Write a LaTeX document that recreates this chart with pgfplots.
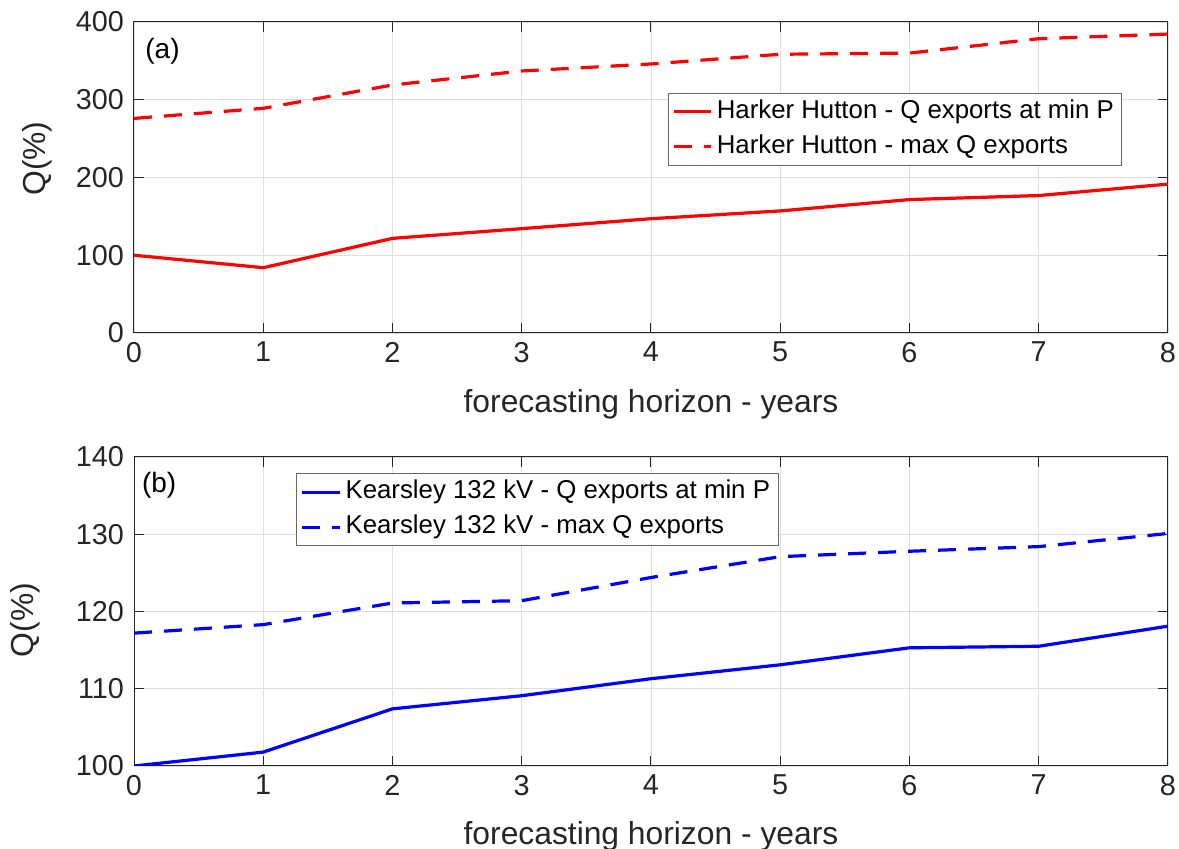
\documentclass[border=0pt]{standalone}
\usepackage{fontspec}
\setmainfont{Liberation Sans}
\usepackage{pgfplots}
\pgfplotsset{compat=1.18}
\definecolor{axgray}{HTML}{262626}
\definecolor{gridgray}{HTML}{DEDEDE}
\definecolor{mred}{HTML}{FF0000}
\definecolor{mblue}{HTML}{0000FF}
\newcommand\tickf{\fontsize{14.4}{17}\selectfont}
\newcommand\labf{\fontsize{15.9}{19}\selectfont}
\newcommand\legf{\fontsize{12.9}{15.4}\selectfont}
\newcommand\panf{\fontsize{14}{16.5}\selectfont}
\pgfplotsset{
  mystyle/.style={
    scale only axis,
    width=517pt,
    xmin=0, xmax=8,
    xtick={0,1,...,8},
    grid=major,
    major grid style={gridgray, line width=0.4pt},
    axis line style={axgray, line width=0.5pt},
    tick style={axgray, line width=0.5pt},
    major tick length=5pt,
    tick align=inside,
    tick pos=both,
    every tick label/.append style={font=\tickf, text=axgray},
    /pgf/number format/assume math mode=true,
    every x tick label/.append style={yshift=-1pt},
    every y tick label/.append style={xshift=-1.5pt},
    every axis label/.append style={font=\labf, text=axgray},
    xlabel={forecasting horizon - years},
    every axis x label/.append style={at={(axis description cs:0.5,-0.229)}, anchor=center, font=\labf},
    every axis y label/.append style={font=\labf},
    ylabel={Q(\%)},
    legend cell align=left,
    legend style={font=\legf, draw=axgray!70, line width=0.5pt,
      inner xsep=2pt, inner ysep=0.5pt, row sep=0pt,
      nodes={inner sep=2pt, text height=10pt, text depth=3.5pt}},
    legend image code/.code={\draw[#1] (0cm,0cm) -- (0.66cm,0cm);},
    every axis plot/.append style={line width=1.6pt},
    dashpat/.style={dash pattern=on 9pt off 6pt},
  }
}
\begin{document}
\begin{tikzpicture}
\path[use as bounding box] (0pt,0pt) rectangle (589.5pt,-424.5pt);
\clip (0pt,0pt) rectangle (589.5pt,-424.5pt);
\begin{axis}[mystyle,
  at={(67pt,-166.5pt)}, anchor=south west,
  height=155.5pt,
  ymin=0, ymax=400, ytick={0,100,200,300,400},
  every axis y label/.append style={at={(axis description cs:-0.0933,0.561)}, anchor=center},
  legend style={at={(0.516,0.773)}, anchor=north west},
]
\addplot[mred] coordinates {(0,100) (1,84) (2,121.7) (3,134.2) (4,147) (5,157) (6,171.6) (7,176.8) (8,191.5)};
\addlegendentry{Harker Hutton - Q exports at min P}
\addplot[mred, dashpat] coordinates {(0,276) (1,289) (2,319) (3,337) (4,346) (5,358.5) (6,360) (7,378.5) (8,384.5)};
\addlegendentry{Harker Hutton - max Q exports}
\node[anchor=west, inner sep=0pt, font=\panf] at (axis description cs:0.0106,0.905) {(a)};
\end{axis}
\begin{axis}[mystyle,
  at={(67pt,-383pt)}, anchor=south west,
  height=154.5pt,
  ymin=100, ymax=140, ytick={100,110,120,130,140},
  every axis y label/.append style={at={(axis description cs:-0.105,0.472)}, anchor=center},
  legend style={at={(0.157,0.947)}, anchor=north west},
]
\addplot[mblue] coordinates {(0,100) (1,101.8) (2,107.4) (3,109.1) (4,111.3) (5,113.1) (6,115.3) (7,115.5) (8,118.1)};
\addlegendentry{Kearsley 132 kV - Q exports at min P}
\addplot[mblue, dashpat] coordinates {(0,117.2) (1,118.3) (2,121.1) (3,121.4) (4,124.4) (5,127.1) (6,127.8) (7,128.4) (8,130.1)};
\addlegendentry{Kearsley 132 kV - max Q exports}
\node[anchor=west, inner sep=0pt, font=\panf] at (axis description cs:0.0074,0.908) {(b)};
\end{axis}
\end{tikzpicture}
\end{document}
